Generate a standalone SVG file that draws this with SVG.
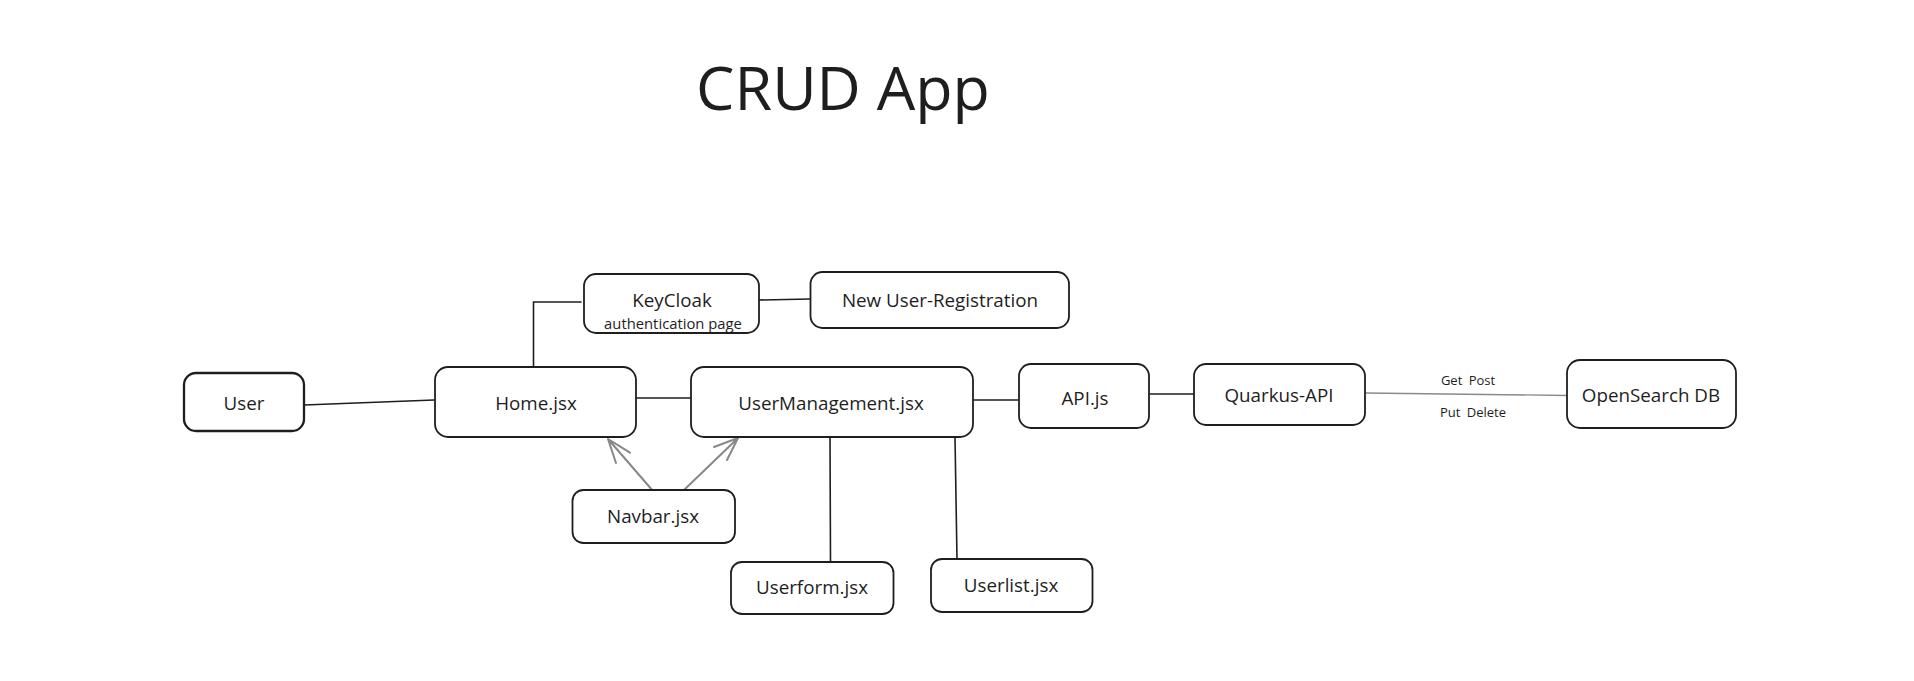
<svg xmlns="http://www.w3.org/2000/svg" width="1914" height="681" viewBox="0 0 1914 681">
<defs>
<style>
.box{fill:#ffffff;stroke:#1e1e1e;stroke-width:1.8}
.lbl{font-family:"Open Sans","Liberation Sans",sans-serif;font-size:18.8px;fill:#1e1e1e;text-anchor:middle}
.sub{font-family:"Open Sans","Liberation Sans",sans-serif;font-size:14.8px;fill:#1e1e1e;text-anchor:middle}
.small{font-family:"Open Sans","Liberation Sans",sans-serif;font-size:13px;fill:#1e1e1e;text-anchor:middle;word-spacing:3px}
.title{font-family:"Open Sans","Liberation Sans",sans-serif;font-size:61px;fill:#1e1e1e;text-anchor:middle}
.ln{fill:none;stroke:#1e1e1e;stroke-width:1.6;stroke-linecap:round}
.gl{fill:none;stroke:#8a8a8a;stroke-width:1.3;stroke-linecap:round}
.ar{fill:none;stroke:#888888;stroke-width:2;stroke-linecap:round;stroke-linejoin:round}
</style>
</defs>
<rect width="1914" height="681" fill="#ffffff"/>
<text class="title" x="843" y="110">CRUD App</text>

<g id="connectors">
<path class="ln" d="M304 405 L434 400"/>
<path class="ln" d="M533.5 366 L533.5 302 L581 302"/>
<path class="ln" d="M759 300 L810 299"/>
<path class="ln" d="M636 398 L691 398"/>
<path class="ln" d="M973 400 L1019 400"/>
<path class="ln" d="M1150 394 L1194 394"/>
<path class="gl" d="M1365 393 L1567 395.5"/>
<path class="ln" d="M830 437 L830.5 561"/>
<path class="ln" d="M955 437 L957 559"/>
<path class="ar" d="M653 491 L608 439 M630 452.7 L608 439 L616 463"/>
<path class="ar" d="M684 490 L738 438 M714 447 L738 438 L727 460"/>
<text class="small" x="1468" y="385">Get Post</text>
<text class="small" x="1473" y="417">Put Delete</text>
</g>

<g id="node-user">
<rect class="box" x="184" y="373" width="120" height="58" rx="12" style="stroke-width:2.3"/>
<text class="lbl" x="244" y="409.5">User</text>
</g>
<g id="node-home">
<rect class="box" x="435" y="367" width="201" height="70" rx="13"/>
<text class="lbl" x="536" y="409.5">Home.jsx</text>
</g>
<g id="node-keycloak">
<rect class="box" x="584" y="274" width="175" height="59" rx="12"/>
<text class="lbl" x="672" y="306.5">KeyCloak</text>
<text class="sub" x="673" y="328.5">authentication page</text>
</g>
<g id="node-newuser">
<rect class="box" x="810.5" y="272" width="258.5" height="56" rx="12"/>
<text class="lbl" x="940" y="307">New User-Registration</text>
</g>
<g id="node-usermanagement">
<rect class="box" x="691" y="367" width="282" height="70" rx="13"/>
<text class="lbl" x="831" y="409.5">UserManagement.jsx</text>
</g>
<g id="node-api">
<rect class="box" x="1019" y="364" width="130" height="64" rx="12"/>
<text class="lbl" x="1085" y="404.5">API.js</text>
</g>
<g id="node-quarkus">
<rect class="box" x="1194" y="364" width="171" height="61" rx="12"/>
<text class="lbl" x="1279" y="401.5">Quarkus-API</text>
</g>
<g id="node-opensearch">
<rect class="box" x="1567" y="360" width="169" height="68" rx="13"/>
<text class="lbl" x="1651" y="401.5">OpenSearch DB</text>
</g>
<g id="node-navbar">
<rect class="box" x="572.5" y="490" width="162.5" height="53" rx="11"/>
<text class="lbl" x="653" y="523">Navbar.jsx</text>
</g>
<g id="node-userform">
<rect class="box" x="731" y="562" width="162.5" height="52" rx="11"/>
<text class="lbl" x="812" y="594">Userform.jsx</text>
</g>
<g id="node-userlist">
<rect class="box" x="931" y="559" width="161.5" height="53" rx="11"/>
<text class="lbl" x="1011" y="591.5">Userlist.jsx</text>
</g>
</svg>
